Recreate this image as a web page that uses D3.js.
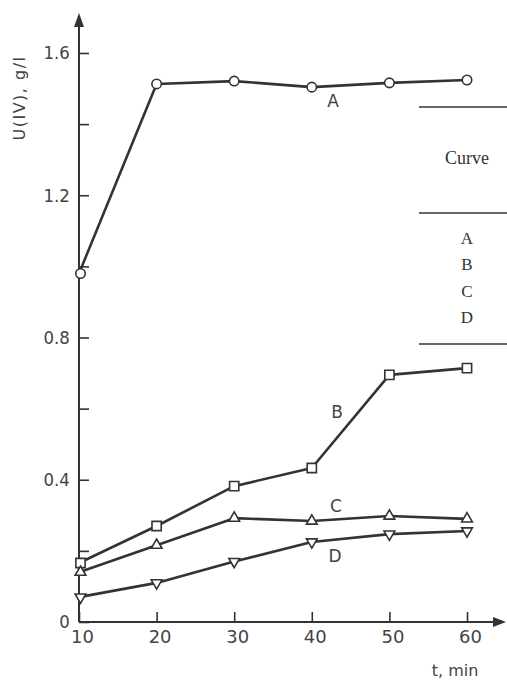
<!DOCTYPE html>
<html>
<head>
<meta charset="utf-8">
<script src="https://cdn.jsdelivr.net/npm/d3@7"></script>
<style>
  html, body { margin: 0; padding: 0; background: #fff; }
  svg { display: block; }
</style>
</head>
<body>
<svg id="chart" width="507" height="681"></svg>
<script>
// Time points, min
const times = [10, 20, 30, 40, 50, 60];
// U(IV) concentration, g/l, per curve
const curveA = [0.98, 1.513, 1.521, 1.504, 1.516, 1.524];
const curveB = [0.166, 0.27, 0.382, 0.433, 0.695, 0.714];
const curveC = [0.14, 0.216, 0.292, 0.284, 0.298, 0.29];
const curveD = [0.07, 0.11, 0.17, 0.225, 0.247, 0.256];
const curveNames = ["A", "B", "C", "D"];
const yTickValues = [0, 0.2, 0.4, 0.6, 0.8, 1.0, 1.2, 1.4, 1.6];
const yTickLabels = ["0", "", "0.4", "", "0.8", "", "1.2", "", "1.6"];
const xTickValues = [10, 20, 30, 40, 50, 60];

const ink = "#333";
const sansFont = "DejaVu Sans";
const svg = d3.select("#chart");

const x = d3.scaleLinear().domain([10, 60]).range([79, 467]);
const y = d3.scaleLinear().domain([0, 1.6]).range([622, 53]);

// Axis lines with arrow heads
svg.append("line").attr("x1", x(10)).attr("x2", 500).attr("y1", y(0)).attr("y2", y(0))
  .attr("stroke", ink).attr("stroke-width", 2);
svg.append("path").attr("d", `M506,${y(0)} L493,${y(0) - 5} L493,${y(0) + 5} Z`).attr("fill", ink);
svg.append("line").attr("x1", x(10)).attr("x2", x(10)).attr("y1", y(0)).attr("y2", 20)
  .attr("stroke", ink).attr("stroke-width", 2);
svg.append("path").attr("d", `M${x(10)},13 L${x(10) - 5},27 L${x(10) + 5},27 Z`).attr("fill", ink);

const yAxis = d3.axisLeft(y).tickValues(yTickValues)
  .tickFormat((d, i) => yTickLabels[i]).tickSize(-10).tickPadding(10);
const gy = svg.append("g").attr("transform", `translate(${x(10)},0)`).call(yAxis);
gy.select(".domain").remove();
gy.selectAll(".tick line").attr("stroke", ink).attr("stroke-width", 1.6);
gy.selectAll(".tick text").attr("fill", "#444").attr("font-family", sansFont)
  .attr("font-size", 18).attr("transform", "scale(0.92,1)");

const xAxis = d3.axisBottom(x).tickValues(xTickValues).tickSize(-10).tickPadding(8);
const gx = svg.append("g").attr("transform", `translate(0,${y(0)})`).call(xAxis);
gx.select(".domain").remove();
gx.selectAll(".tick line").attr("stroke", ink).attr("stroke-width", 1.6);
gx.selectAll(".tick text").attr("fill", "#444").attr("font-family", sansFont)
  .attr("font-size", 18).attr("dx", 3);

// Axis titles
svg.append("text").attr("transform", "translate(25,98) rotate(-90)")
  .attr("text-anchor", "middle").attr("fill", "#444")
  .attr("font-family", sansFont).attr("font-size", 16).attr("letter-spacing", 1.5)
  .text("U(IV), g/l");
svg.append("text").attr("x", 455).attr("y", 676).attr("text-anchor", "middle")
  .attr("fill", "#444").attr("font-family", sansFont).attr("font-size", 16).text("t, min");

// Curves
const series = [curveA, curveB, curveC, curveD];
const line = d3.line().x((d, i) => x(times[i])).y(d => y(d));
series.forEach(s => {
  svg.append("path").attr("d", line(s)).attr("fill", "none")
    .attr("stroke", ink).attr("stroke-width", 2.6).attr("stroke-linejoin", "round");
});

// Markers: circles (A), squares (B), triangles up (C), triangles down (D)
const sym = [d3.symbolCircle, d3.symbolSquare, d3.symbolTriangle, d3.symbolTriangle];
const sizes = [70, 85, 50, 50];
series.forEach((s, k) => {
  svg.append("g").selectAll("path").data(s).join("path")
    .attr("d", d3.symbol().type(sym[k]).size(sizes[k]))
    .attr("transform", (d, i) => `translate(${x(times[i]) + (i === 0 ? 1.5 : 0)},${y(d)})` + (k === 3 ? " rotate(180)" : ""))
    .attr("fill", "#fff").attr("stroke", ink).attr("stroke-width", 1.6);
});

// Curve labels placed beside the lines
const labelPos = [[333, 107], [337, 418], [336, 512], [335, 562]];
curveNames.forEach((n, k) => {
  svg.append("text").attr("x", labelPos[k][0]).attr("y", labelPos[k][1])
    .attr("text-anchor", "middle").attr("fill", "#444")
    .attr("font-family", sansFont).attr("font-size", 17).text(n);
});

// Legend table at the right
[107, 213, 344].forEach(yy => {
  svg.append("line").attr("x1", 419).attr("x2", 507).attr("y1", yy).attr("y2", yy)
    .attr("stroke", ink).attr("stroke-width", 1.3);
});
svg.append("text").attr("x", 467).attr("y", 164).attr("text-anchor", "middle")
  .attr("fill", "#333").attr("font-family", "Liberation Serif").attr("font-size", 18).text("Curve");
curveNames.forEach((n, k) => {
  svg.append("text").attr("x", 467).attr("y", 244 + k * 26.3).attr("text-anchor", "middle")
    .attr("fill", "#333").attr("font-family", "Liberation Serif").attr("font-size", 17).text(n);
});
</script>
</body>
</html>
